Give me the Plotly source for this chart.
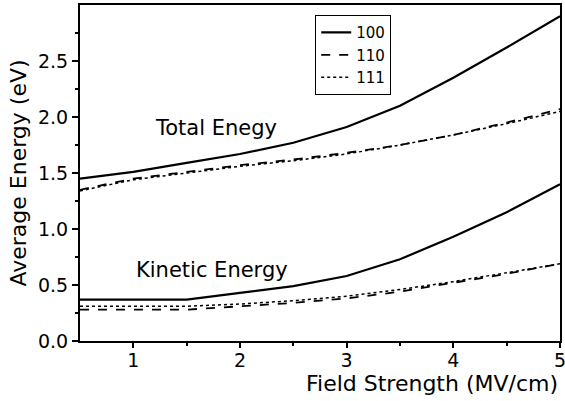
import plotly.graph_objects as go

field = [0.5, 1.0, 1.5, 2.0, 2.5, 3.0, 3.5, 4.0, 4.5, 5.0]

total_100 = [1.45, 1.51, 1.59, 1.67, 1.77, 1.91, 2.10, 2.35, 2.62, 2.90]
total_110 = [1.35, 1.45, 1.51, 1.57, 1.62, 1.68, 1.75, 1.84, 1.95, 2.07]
total_111 = [1.34, 1.44, 1.50, 1.56, 1.61, 1.67, 1.75, 1.84, 1.94, 2.05]

kin_100 = [0.37, 0.37, 0.37, 0.43, 0.49, 0.58, 0.73, 0.93, 1.15, 1.40]
kin_110 = [0.28, 0.28, 0.28, 0.31, 0.34, 0.38, 0.44, 0.52, 0.60, 0.69]
kin_111 = [0.31, 0.31, 0.31, 0.33, 0.36, 0.40, 0.46, 0.53, 0.61, 0.69]

labels = ["100", "110", "111"]
dashes = ["solid", "dash", "dot"]
widths = [2.2, 1.8, 1.5]

FONT = "DejaVu Sans, Verdana, sans-serif"

fig = go.Figure()
for lab, d, w, tot, kin in zip(labels, dashes, widths,
                               [total_100, total_110, total_111],
                               [kin_100, kin_110, kin_111]):
    fig.add_trace(go.Scatter(x=field, y=tot, mode="lines", name=lab,
                             line=dict(color="black", dash=d, width=w),
                             legendgroup=lab))
    fig.add_trace(go.Scatter(x=field, y=kin, mode="lines", name=lab,
                             line=dict(color="black", dash=d, width=w),
                             legendgroup=lab, showlegend=False))

fig.add_annotation(x=1.18, y=1.90, xref="x", yref="y", text="Total Enegy",
                   showarrow=False, xanchor="left", yanchor="middle",
                   font=dict(size=21, color="black", family=FONT))
fig.add_annotation(x=1.01, y=0.634, xref="x", yref="y", text="Kinetic Energy",
                   showarrow=False, xanchor="left", yanchor="middle",
                   font=dict(size=21, color="black", family=FONT))
fig.add_annotation(x=1.0, y=-0.125, xref="paper", yref="paper", text="Field Strength (MV/cm)",
                   showarrow=False, xanchor="right", yanchor="middle",
                   font=dict(size=22, color="black", family=FONT))

fig.update_layout(
    width=565, height=401,
    margin=dict(l=80, r=5, t=5, b=60),
    paper_bgcolor="white", plot_bgcolor="white",
    font=dict(family=FONT, color="black", size=19),
    legend=dict(x=0.49, y=0.97, xanchor="left", yanchor="top",
                bordercolor="black", borderwidth=1, bgcolor="white",
                font=dict(size=15), tracegroupgap=0),
    showlegend=True,
)
fig.update_xaxes(range=[0.5, 5.0], tickvals=[1, 2, 3, 4, 5], automargin=False,
                 ticks="outside", ticklen=5, tickwidth=2, tickcolor="black",
                 showline=True, linecolor="black", linewidth=2, mirror=True,
                 showgrid=False, zeroline=False, ticklabeloverflow="allow",
                 minor=dict(tickvals=[1.5, 2.5, 3.5, 4.5], ticks="outside", ticklen=3,
                            tickwidth=1.5, tickcolor="black"),
                 tickfont=dict(size=19))
try:
    fig.update_xaxes(ticklabelstandoff=-4)
except Exception:
    pass
fig.update_yaxes(range=[0, 3.0], tickvals=[0, 0.5, 1.0, 1.5, 2.0, 2.5], tickformat=".1f",
                 automargin=False,
                 ticks="outside", ticklen=6, tickwidth=2, tickcolor="black",
                 showline=True, linecolor="black", linewidth=2, mirror=True,
                 showgrid=False, zeroline=False,
                 minor=dict(tickvals=[0.25, 0.75, 1.25, 1.75, 2.25, 2.75], ticks="outside",
                            ticklen=3, tickwidth=1.5, tickcolor="black"),
                 title=dict(text="Average Energy (eV)", font=dict(size=22), standoff=5),
                 tickfont=dict(size=19))

fig.write_html("out.html", config={"displayModeBar": False},
               post_script="document.body.style.margin='0';document.body.style.overflow='hidden';")
